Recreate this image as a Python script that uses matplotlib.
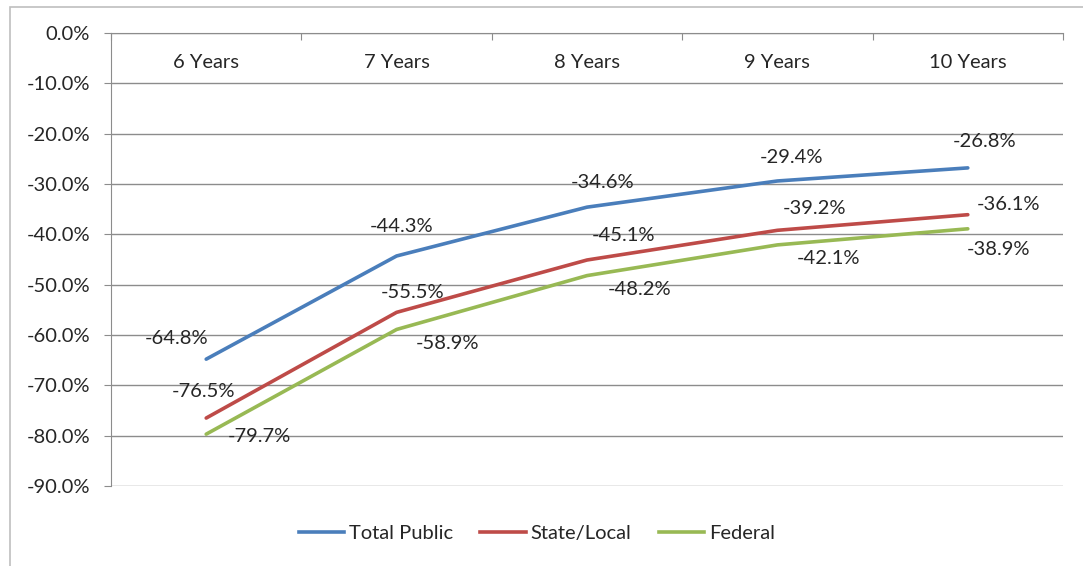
import matplotlib.pyplot as plt
from matplotlib.lines import Line2D
from matplotlib.ticker import FuncFormatter

categories = ["6 Years", "7 Years", "8 Years", "9 Years", "10 Years"]
total_public = [-64.8, -44.3, -34.6, -29.4, -26.8]
state_local = [-76.5, -55.5, -45.1, -39.2, -36.1]
federal = [-79.7, -58.9, -48.2, -42.1, -38.9]

# label offsets in points (dx, dy) for each series, Excel-style placement
offsets_total = [(-21, 15), (3.5, 21), (11, 18), (10, 17), (12, 19)]
offsets_state = [(-2, 19), (11.5, 14.5), (26, 18), (27, 16), (29, 7)]
offsets_fed = [(38, -1.5), (37, -10), (38, -10), (37, -9.5), (22, -15)]

plt.rcParams["font.family"] = ["Lato", "DejaVu Sans"]
text_color = "#262626"
grid_color = "#8c8c8c"
fs = 14.5

fig = plt.figure(figsize=(10.83, 5.66), dpi=100)
ax = fig.add_axes([111 / 1083, 1 - 486 / 566, (1063 - 111) / 1083, (486 - 33) / 566])

x = list(range(len(categories)))
series = [
    ("Total Public", total_public, "#4a7ebb", offsets_total),
    ("State/Local", state_local, "#be4b48", offsets_state),
    ("Federal", federal, "#98b954", offsets_fed),
]
for name, vals, color, offs in series:
    ax.plot(x, vals, color=color, lw=2.6, label=name, solid_capstyle="round")
    for xi, v, (dx, dy) in zip(x, vals, offs):
        ax.annotate(f"{v:.1f}%", (xi, v), xytext=(dx, dy), textcoords="offset points",
                    ha="center", va="center", fontsize=fs, color=text_color)

ax.set_xlim(-0.5, len(categories) - 0.5)
ax.set_ylim(-90, 0)
ax.set_yticks(range(-90, 1, 10))
ax.yaxis.set_major_formatter(FuncFormatter(lambda v, p: f"{v:.1f}%"))
ax.tick_params(axis="y", length=5, color=grid_color, labelsize=fs, labelcolor=text_color, pad=10)
ax.grid(axis="y", color=grid_color, lw=1)
ax.set_axisbelow(True)

# category axis sits at 0%, labels inside the plot
ax.xaxis.tick_top()
ax.set_xticks([i - 0.5 for i in range(len(categories) + 1)])
ax.set_xticklabels([])
ax.tick_params(axis="x", direction="in", length=5, color=grid_color)
for xi, cat in zip(x, categories):
    ax.text(xi, -5.9, cat, ha="center", va="center", fontsize=fs, color=text_color)

for side in ["right", "bottom"]:
    ax.spines[side].set_visible(False)
ax.spines["left"].set_color(grid_color)
ax.spines["top"].set_color(grid_color)

handles = [Line2D([], [], color=c, lw=2.6) for _, _, c, _ in series]
fig.legend(handles, [s[0] for s in series], loc="center", bbox_to_anchor=(537 / 1083, 1 - 533 / 566),
           ncol=3, frameon=False, fontsize=fs, handlelength=2.25, handletextpad=0.25,
           columnspacing=1.35, labelcolor=text_color)

# outer chart border
fig.add_artist(plt.Rectangle((10 / 1083, -0.02), 1.1, 1 - 7 / 566 + 0.02, transform=fig.transFigure,
                             fill=False, ec="#bfbfbf", lw=1.2))

fig.savefig("out.png", dpi=100)
